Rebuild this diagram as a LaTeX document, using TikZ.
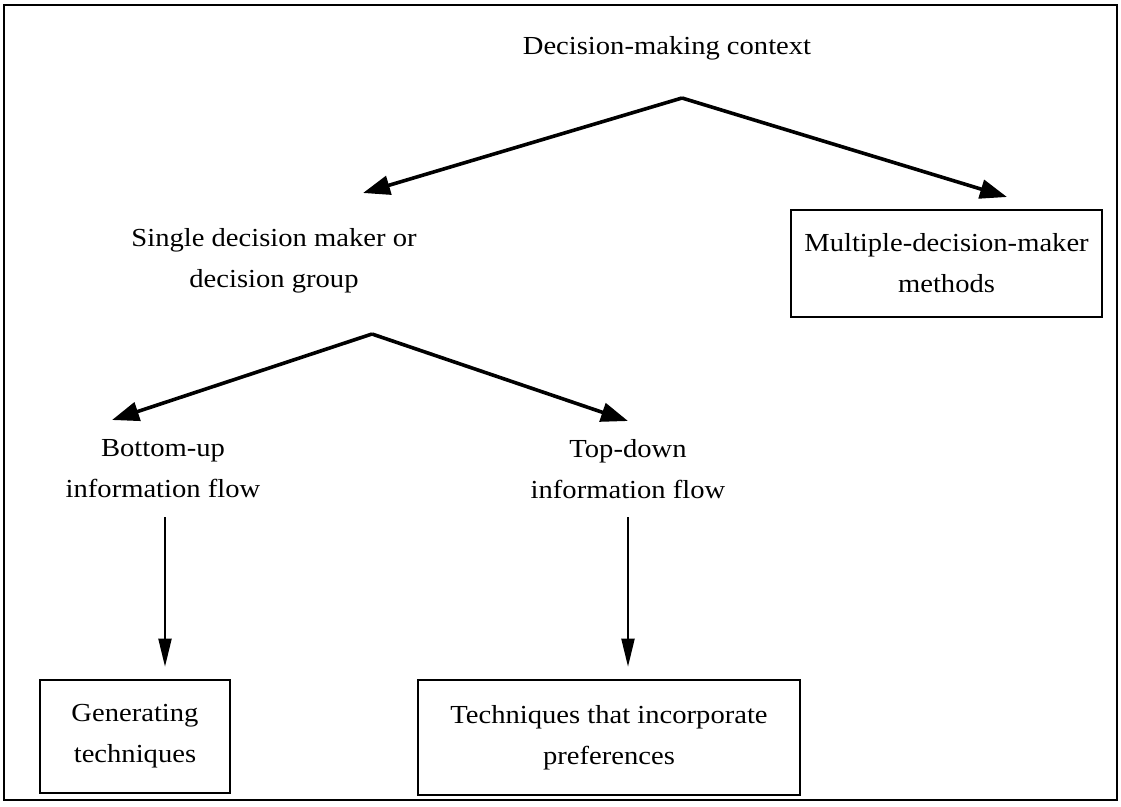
\documentclass[tikz,border=0pt]{standalone}
\usepackage{fontspec}
\setmainfont{Liberation Serif}[FakeStretch=1.1]
\usetikzlibrary{arrows.meta}
\tikzset{
    txt/.style={font=\fontsize{26}{41}\selectfont, inner sep=0pt, align=center},
    txtbox/.style={txt, draw, line width=2.6pt},
    forkarrow/.style={line width=3.6pt, -{Triangle[length=27pt,width=19pt]}},
    downarrow/.style={line width=2pt, -{Triangle[length=28pt,width=13pt]}, shorten >=12pt}
}
\begin{document}
\begin{tikzpicture}[x=1pt, y=1pt]
    \useasboundingbox (0,0) rectangle (1121,-806);
    \draw[line width=2pt] (4,-5) rectangle (1117,-800);
    %top
    \node[txt] (context) at (667,-48) {Decision-making context};
    \node[txt] (single) at (274,-261) {Single decision maker or\\decision group};
    \node[txtbox, minimum width=311, minimum height=107] (multi) at (946.5,-263.5) {Multiple-decision-maker\\methods};
    \coordinate (fork1) at (682,-98);
    \coordinate (singletip) at (363,-193);
    \coordinate (multitip) at (1007,-197);
    \draw[forkarrow] (fork1) -- (singletip);
    \draw[forkarrow] (fork1) -- (multitip);
    %middle
    \node[txt] (bottomup) at (163,-469) {Bottom-up\\information flow};
    \node[txt] (topdown) at (628,-469) {Top-down\\information flow};
    \coordinate (fork2) at (372,-334);
    \coordinate (butip) at (112,-420);
    \coordinate (tdtip) at (628,-421);
    \draw[forkarrow] (fork2) -- (butip);
    \draw[forkarrow] (fork2) -- (tdtip);
    %bottom
    \node[txtbox, minimum width=190, minimum height=113] (generating) at (135,-736.5) {Generating\\techniques};
    \node[txtbox, minimum width=382, minimum height=115] (prefs) at (609,-737.5) {Techniques that incorporate\\preferences};
    \coordinate (buout) at (165,-517);
    \coordinate (tdout) at (628,-517);
    \draw[downarrow] (buout) -- (buout |- generating.north);
    \draw[downarrow] (tdout) -- (tdout |- prefs.north);
\end{tikzpicture}
\end{document}
